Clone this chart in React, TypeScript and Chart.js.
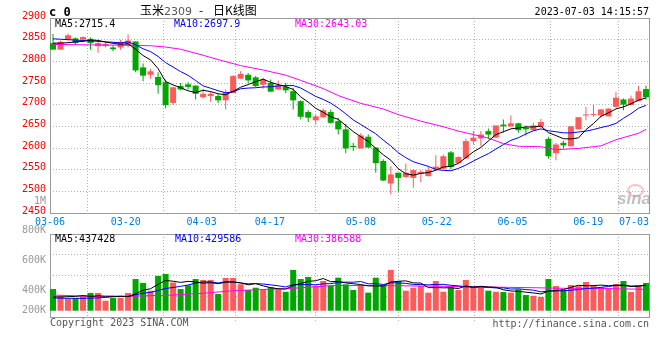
import React, { useEffect, useRef } from "react";
import { Chart, registerables } from "chart.js";

Chart.register(...registerables);

// ---------------- data ----------------
const TICK_DAYS = [0, 10, 20, 29, 41, 51, 61, 71, 79];
const TICK_LABELS = ["03-06", "03-20", "04-03", "04-17", "05-08", "05-22", "06-05", "06-19", "07-03"];

const OPEN = [
  2842, 2827, 2850, 2853, 2850, 2852, 2835, 2835, 2832, 2832,
  2837, 2846, 2786, 2769, 2764, 2752, 2704, 2743, 2747, 2744,
  2717, 2720, 2720, 2710, 2727, 2760, 2769, 2763, 2746, 2750,
  2735, 2741, 2731, 2708, 2683, 2664, 2671, 2683, 2662, 2643,
  2605, 2599, 2626, 2601, 2570, 2518, 2543, 2533, 2531, 2541,
  2535, 2551, 2552, 2590, 2565, 2576, 2616, 2622, 2639, 2624,
  2654, 2650, 2657, 2647, 2641, 2649, 2621, 2588, 2612, 2604,
  2643, 2675, 2676, 2675, 2673, 2695, 2712, 2699, 2708, 2736,
];
const HIGH = [
  2863, 2848, 2864, 2855, 2858, 2855, 2846, 2844, 2837, 2850,
  2862, 2846, 2795, 2783, 2775, 2758, 2742, 2750, 2752, 2744,
  2736, 2731, 2725, 2735, 2768, 2777, 2773, 2766, 2762, 2758,
  2756, 2750, 2739, 2710, 2687, 2677, 2691, 2689, 2670, 2656,
  2612, 2634, 2631, 2601, 2574, 2558, 2543, 2564, 2551, 2549,
  2558, 2583, 2585, 2593, 2581, 2622, 2640, 2639, 2645, 2652,
  2666, 2675, 2658, 2652, 2658, 2667, 2626, 2612, 2617, 2650,
  2671, 2695, 2699, 2690, 2691, 2729, 2714, 2721, 2743, 2744,
];
const LOW = [
  2827, 2827, 2848, 2839, 2845, 2827, 2820, 2832, 2823, 2827,
  2832, 2775, 2754, 2760, 2725, 2692, 2699, 2733, 2735, 2712,
  2714, 2706, 2704, 2689, 2727, 2760, 2750, 2741, 2737, 2730,
  2733, 2727, 2689, 2666, 2660, 2654, 2670, 2656, 2631, 2588,
  2593, 2599, 2601, 2543, 2524, 2493, 2499, 2531, 2508, 2521,
  2535, 2551, 2552, 2551, 2565, 2576, 2608, 2604, 2620, 2624,
  2635, 2649, 2635, 2629, 2640, 2647, 2575, 2572, 2599, 2604,
  2643, 2664, 2672, 2670, 2673, 2693, 2687, 2698, 2708, 2712,
];
const CLOSE = [
  2827, 2845, 2860, 2842, 2856, 2842, 2842, 2840, 2828, 2845,
  2848, 2779, 2767, 2777, 2745, 2699, 2740, 2735, 2741, 2725,
  2725, 2725, 2710, 2729, 2766, 2771, 2756, 2743, 2758, 2730,
  2745, 2733, 2710, 2672, 2670, 2673, 2687, 2658, 2643, 2599,
  2602, 2629, 2601, 2565, 2525, 2539, 2531, 2543, 2549, 2545,
  2549, 2557, 2581, 2556, 2579, 2616, 2624, 2631, 2631, 2652,
  2650, 2657, 2641, 2643, 2652, 2660, 2581, 2608, 2606, 2650,
  2671, 2677, 2678, 2689, 2691, 2716, 2700, 2714, 2731, 2717,
];

const MA5 = [
  2842, 2842, 2843, 2845, 2846, 2849, 2848.4, 2844.4, 2841.6, 2839.4,
  2840.6, 2828, 2813.4, 2803.2, 2783.2, 2753.4, 2745.6, 2739.2, 2732, 2728,
  2733.2, 2730.2, 2725.2, 2722.8, 2731, 2740.2, 2746.4, 2753, 2758.8, 2751.6,
  2746.4, 2741.8, 2735.2, 2718, 2706, 2691.6, 2682.4, 2672, 2666.2, 2652,
  2637.8, 2626.2, 2614.8, 2599.2, 2584.4, 2571.8, 2552.2, 2540.6, 2537.4, 2541.4,
  2543.4, 2548.6, 2556.2, 2557.6, 2564.4, 2577.8, 2591.2, 2601.2, 2616.2, 2630.8,
  2637.6, 2644.2, 2646.2, 2648.6, 2648.6, 2650.6, 2635.4, 2628.8, 2621.4, 2621,
  2623.2, 2642.4, 2656.4, 2673, 2681.2, 2690.2, 2694.8, 2702, 2710.4, 2715.6,
];
const MA10 = [
  2852, 2851, 2850, 2849, 2848, 2847, 2846, 2845, 2844, 2842.7,
  2844.8, 2838.2, 2828.9, 2822.4, 2811.3, 2797, 2786.8, 2776.3, 2767.6, 2755.6,
  2743.3, 2737.9, 2732.2, 2727.4, 2729.5, 2736.7, 2738.3, 2739.1, 2740.8, 2741.3,
  2743.3, 2744.1, 2744.1, 2738.4, 2728.8, 2719, 2712.1, 2703.6, 2692.1, 2679,
  2664.7, 2654.3, 2643.4, 2632.7, 2618.2, 2604.8, 2589.2, 2577.7, 2568.3, 2562.9,
  2557.6, 2550.4, 2548.4, 2547.5, 2552.9, 2560.6, 2569.9, 2578.7, 2586.9, 2597.6,
  2607.7, 2617.7, 2623.7, 2632.4, 2639.7, 2644.1, 2639.8, 2637.5, 2635, 2634.8,
  2636.9, 2638.9, 2642.6, 2647.2, 2651.1, 2656.7, 2668.6, 2679.2, 2691.7, 2698.4,
];
const MA30_DAYS = [0, 5, 10, 13, 15, 17, 20, 22, 25, 28, 31, 33, 36, 38, 41, 44, 46, 49, 52, 54, 58, 60, 62, 65, 67, 70, 73, 75, 78, 79];
const MA30 = [2839, 2838, 2837, 2836, 2833, 2828, 2814, 2804, 2790, 2780, 2768, 2756, 2737, 2721, 2703, 2690, 2677, 2662, 2649, 2639, 2623, 2610, 2604, 2603, 2596, 2599, 2605, 2619, 2634, 2643];

const VOLUME = [
  411000, 367000, 345000, 351000, 363000, 385000, 385000, 333000, 351000, 351000,
  385000, 478000, 452000, 400000, 499000, 512000, 455000, 411000, 436000, 478000,
  472000, 472000, 378000, 485000, 485000, 443000, 405000, 420000, 409000, 423000,
  409000, 393000, 539000, 478000, 492000, 433000, 465000, 433000, 487000, 443000,
  405000, 438000, 387000, 487000, 438000, 539000, 465000, 400000, 420000, 431000,
  387000, 465000, 393000, 423000, 405000, 472000, 427000, 420000, 400000, 393000,
  391000, 387000, 409000, 371000, 366000, 358000, 478000, 431000, 405000, 438000,
  431000, 458000, 438000, 423000, 416000, 445000, 465000, 391000, 431000, 452000,
];
const VOL_MA5 = [
  358000, 358000, 360000, 362000, 367400, 362200, 365800, 363400, 363400, 361000,
  361000, 379600, 403400, 413200, 442800, 468200, 463600, 455400, 462600, 458400,
  450400, 453800, 447200, 457000, 458400, 452600, 439200, 447600, 432400, 420000,
  413200, 410800, 434600, 448400, 462200, 467000, 481400, 460200, 462000, 452200,
  446600, 441200, 432000, 432000, 431000, 457800, 463200, 465800, 452400, 451000,
  420600, 420600, 419200, 419800, 414600, 431600, 424000, 429400, 424800, 422400,
  406200, 398200, 396000, 390200, 384800, 378200, 396400, 400800, 407600, 422000,
  436600, 432600, 434000, 437600, 433200, 436000, 437400, 428000, 429600, 436800,
];
const VOL_MA10 = [
  351000, 350000, 349000, 349000, 349000, 350000, 352000, 355000, 360000, 364200,
  361600, 372700, 383400, 388300, 401900, 414600, 421600, 429400, 437900, 450600,
  459300, 458700, 451300, 459800, 458400, 451500, 446500, 447400, 444700, 439200,
  432900, 425000, 441100, 440400, 441100, 440100, 446100, 447400, 455200, 457200,
  456800, 461300, 446100, 447000, 441600, 452200, 452200, 448900, 442200, 441000,
  439200, 441900, 442500, 436100, 432800, 426100, 422300, 424300, 422300, 418500,
  418900, 411100, 412700, 407500, 403600, 392200, 397300, 398400, 398900, 403400,
  407400, 414500, 417400, 422600, 427600, 436300, 435000, 431000, 433600, 435000,
];
const VOL_MA30_DAYS = [0, 3, 6, 9, 13, 16, 20, 24, 28, 31, 34, 37, 42, 46, 51, 55, 60, 64, 68, 73, 79];
const VOL_MA30 = [371000, 366000, 360000, 360000, 367000, 371000, 383000, 400000, 408000, 413000, 423000, 434000, 435000, 433000, 430000, 427000, 423000, 420000, 416000, 415000, 409000];

const VOL_AXIS_VALUES = [1000000, 800000, 600000, 400000, 200000];
const VOL_AXIS_LABELS = ["1M", "800K", "600K", "400K", "200K"];

// ---------------- scale settings ----------------
const PRICE_MIN = 2450;
const PRICE_MAX = 2900;
const VOL_MIN = 224100;
const VOL_MAX = 779300;
const VOL_BASE = 266000;

const UP_COLOR = "#ff5a5a";
const DOWN_COLOR = "#00a600";
const GRID_COLOR = "#b0b0b0";
const FRAME_COLOR = "#9a9a9a";
const MONO = "'DejaVu Sans Mono', monospace";
const CJK = "'Noto Sans CJK SC', sans-serif";

const candleColor = (ctx: any) => {
  const i = ctx.dataIndex;
  return CLOSE[i] >= OPEN[i] ? UP_COLOR : DOWN_COLOR;
};

const framePlugin = {
  id: "frame",
  beforeDatasetsDraw(chart: any) {
    const { ctx, chartArea } = chart;
    const { left, top, right, bottom } = chartArea;
    ctx.save();
    ctx.strokeStyle = FRAME_COLOR;
    ctx.lineWidth = 1;
    ctx.setLineDash([]);
    ctx.strokeRect(left + 0.5, top + 0.5, right - left, bottom - top);
    ctx.restore();
  },
};

const volLabelPlugin = {
  id: "volLabels",
  afterDraw(chart: any) {
    const { ctx, chartArea } = chart;
    const ys = chart.scales.y;
    const basePx = ys.getPixelForValue(VOL_BASE);
    ctx.save();
    ctx.font = "10px " + MONO;
    ctx.fillStyle = "#999999";
    ctx.textAlign = "right";
    ctx.textBaseline = "middle";
    VOL_AXIS_VALUES.forEach((v, k) => {
      const y = Math.min(ys.getPixelForValue(v), basePx);
      ctx.fillText(VOL_AXIS_LABELS[k], chartArea.left - 4, y);
    });
    ctx.restore();
  },
};

const lineDs = (points: { x: number; y: number }[], color: string) => ({
  type: "line",
  data: points,
  borderColor: color,
  backgroundColor: color,
  borderWidth: 1,
  pointRadius: 0,
  tension: 0,
  fill: false,
  order: 0,
});

const hiddenX = { type: "linear", min: -0.4, max: 79.4, display: false, offset: false };

function priceConfig(): any {
  return {
    type: "bar",
    data: {
      datasets: [
        lineDs(MA5.map((v, i) => ({ x: i, y: v })), "#000000"),
        lineDs(MA10.map((v, i) => ({ x: i, y: v })), "#0000ff"),
        lineDs(MA30_DAYS.map((d, k) => ({ x: d, y: MA30[k] })), "#ff00ff"),
        {
          type: "bar",
          data: OPEN.map((o, i) => ({ x: i, y: [o, CLOSE[i]] })),
          backgroundColor: candleColor,
          borderWidth: 0,
          barThickness: 6,
          grouped: false,
          minBarLength: 1,
          inflateAmount: 0,
          order: 1,
        },
        {
          type: "bar",
          data: LOW.map((l, i) => ({ x: i, y: [l, HIGH[i]] })),
          backgroundColor: candleColor,
          borderWidth: 0,
          barThickness: 1,
          grouped: false,
          inflateAmount: 0,
          order: 2,
        },
      ],
    },
    options: {
      responsive: false,
      animation: false,
      events: [],
      layout: { padding: { left: 0, right: 11, top: 18, bottom: 127 } },
      plugins: { legend: { display: false }, tooltip: { enabled: false } },
      scales: {
        x: hiddenX,
        x2: {
          type: "linear",
          position: "bottom",
          min: 0,
          max: 79,
          offset: false,
          afterBuildTicks: (s: any) => {
            s.ticks = TICK_DAYS.map((v) => ({ value: v }));
          },
          afterFit: (s: any) => {
            s.height = 20;
            s.paddingLeft = 0;
            s.paddingRight = 0;
          },
          ticks: {
            autoSkip: false,
            maxRotation: 0,
            minRotation: 0,
            color: "#0080e0",
            padding: 3,
            font: { family: MONO, size: 10 },
            callback: (value: number) => {
              const k = TICK_DAYS.indexOf(value);
              const s = TICK_LABELS[k] ?? "";
              return k === TICK_DAYS.length - 1 ? s + " ".repeat(s.length) : s;
            },
          },
          grid: { color: GRID_COLOR, lineWidth: 1, drawTicks: false },
          border: { display: false, dash: [1, 2] },
        },
        y: {
          type: "linear",
          position: "left",
          min: PRICE_MIN,
          max: PRICE_MAX,
          afterFit: (s: any) => {
            s.width = 50;
            s.paddingTop = 0;
            s.paddingBottom = 0;
          },
          ticks: {
            stepSize: 50,
            color: "#ff0000",
            padding: 4,
            labelOffset: -2,
            font: { family: MONO, size: 10 },
            callback: (v: number) => String(v),
          },
          grid: { color: GRID_COLOR, lineWidth: 1, drawTicks: false },
          border: { display: false, dash: [1, 2] },
        },
      },
    },
    plugins: [framePlugin],
  };
}

function volumeConfig(): any {
  return {
    type: "bar",
    data: {
      datasets: [
        lineDs(VOL_MA5.map((v, i) => ({ x: i, y: v })), "#000000"),
        lineDs(VOL_MA10.map((v, i) => ({ x: i, y: v })), "#0000ff"),
        lineDs(VOL_MA30_DAYS.map((d, k) => ({ x: d, y: VOL_MA30[k] })), "#ff00ff"),
        {
          type: "bar",
          data: VOLUME.map((v, i) => ({ x: i, y: [VOL_BASE, v] })),
          backgroundColor: candleColor,
          borderWidth: 0,
          barThickness: 6,
          grouped: false,
          inflateAmount: 0,
          order: 1,
        },
      ],
    },
    options: {
      responsive: false,
      animation: false,
      events: [],
      layout: { padding: { left: 0, right: 11, top: 234, bottom: 33 } },
      plugins: { legend: { display: false }, tooltip: { enabled: false } },
      scales: {
        x: hiddenX,
        x2: {
          type: "linear",
          position: "bottom",
          min: 0,
          max: 79,
          offset: false,
          afterBuildTicks: (s: any) => {
            s.ticks = TICK_DAYS.map((v) => ({ value: v }));
          },
          afterFit: (s: any) => {
            s.height = 10;
            s.paddingLeft = 0;
            s.paddingRight = 0;
          },
          ticks: { display: false },
          grid: {
            color: GRID_COLOR,
            lineWidth: 1,
            drawTicks: true,
            tickLength: 4,
            tickColor: GRID_COLOR,
            tickBorderDash: [1, 2],
          },
          border: { display: false, dash: [1, 2] },
        },
        y: {
          type: "linear",
          position: "left",
          min: VOL_MIN,
          max: VOL_MAX,
          afterBuildTicks: (s: any) => {
            const step = (VOL_MAX - VOL_MIN) / 4;
            s.ticks = [0, 1, 2, 3, 4].map((k) => ({ value: VOL_MIN + k * step }));
          },
          afterFit: (s: any) => {
            s.width = 50;
            s.paddingTop = 0;
            s.paddingBottom = 0;
          },
          ticks: { display: false },
          grid: { color: GRID_COLOR, lineWidth: 1, drawTicks: false },
          border: { display: false, dash: [1, 2] },
        },
      },
    },
    plugins: [framePlugin, volLabelPlugin],
  };
}

const base: React.CSSProperties = {
  position: "absolute",
  fontFamily: MONO,
  fontSize: 10,
  lineHeight: "12px",
  whiteSpace: "pre",
  margin: 0,
  padding: 0,
};

export default function App() {
  const priceRef = useRef<HTMLCanvasElement>(null);
  const volRef = useRef<HTMLCanvasElement>(null);

  useEffect(() => {
    Chart.defaults.font.family = MONO;
    Chart.defaults.font.size = 10;
    const pc = new Chart(priceRef.current as HTMLCanvasElement, priceConfig());
    const vc = new Chart(volRef.current as HTMLCanvasElement, volumeConfig());
    return () => {
      pc.destroy();
      vc.destroy();
    };
  }, []);

  return (
    <div
      style={{
        position: "fixed",
        left: 0,
        top: 0,
        width: 660,
        height: 360,
        background: "#ffffff",
        overflow: "hidden",
      }}
    >
      <canvas ref={priceRef} width={660} height={360} style={{ position: "absolute", left: 0, top: 0 }} />
      <canvas ref={volRef} width={660} height={360} style={{ position: "absolute", left: 0, top: 0 }} />

      <span style={{ ...base, left: 49, top: 6, fontSize: 12, fontWeight: "bold", color: "#000" }}>c 0</span>
      <span style={{ ...base, left: 140, top: 4, fontFamily: CJK, fontSize: 12, color: "#000" }}>
        玉米<span style={{ fontFamily: "'DejaVu Sans', sans-serif", fontSize: 11, color: "#555" }}>2309</span>
      </span>
      <span style={{ ...base, left: 199, top: 4, fontFamily: CJK, fontSize: 12, color: "#000" }}>-</span>
      <span style={{ ...base, left: 213, top: 4, fontFamily: CJK, fontSize: 12, color: "#000" }}>日K线图</span>
      <span style={{ ...base, right: 11, top: 6, color: "#000" }}>2023-07-03 14:15:57</span>

      <span style={{ ...base, left: 55, top: 18, color: "#000" }}>MA5:2715.4</span>
      <span style={{ ...base, left: 174, top: 18, color: "#0000ff" }}>MA10:2697.9</span>
      <span style={{ ...base, left: 295, top: 18, color: "#ff00ff" }}>MA30:2643.03</span>

      <span style={{ ...base, left: 55, top: 233, color: "#000" }}>MA5:437428</span>
      <span style={{ ...base, left: 175, top: 233, color: "#0000ff" }}>MA10:429586</span>
      <span style={{ ...base, left: 295, top: 233, color: "#ff00ff" }}>MA30:386588</span>

      <span style={{ ...base, left: 50, top: 317, color: "#555" }}>Copyright 2023 SINA.COM</span>
      <span style={{ ...base, right: 11, top: 318, color: "#555" }}>http://finance.sina.com.cn</span>

      <div
        style={{
          position: "absolute",
          left: 627,
          top: 184,
          width: 13,
          height: 9,
          borderRadius: "50%",
          border: "2px solid rgba(240,120,120,0.45)",
        }}
      />
      <span
        style={{
          position: "absolute",
          left: 617,
          top: 190,
          fontFamily: "'Liberation Sans', Arial, sans-serif",
          fontStyle: "italic",
          fontWeight: "bold",
          fontSize: 17,
          lineHeight: "17px",
          color: "rgba(140,140,140,0.55)",
          whiteSpace: "pre",
        }}
      >
        sina
      </span>
    </div>
  );
}
